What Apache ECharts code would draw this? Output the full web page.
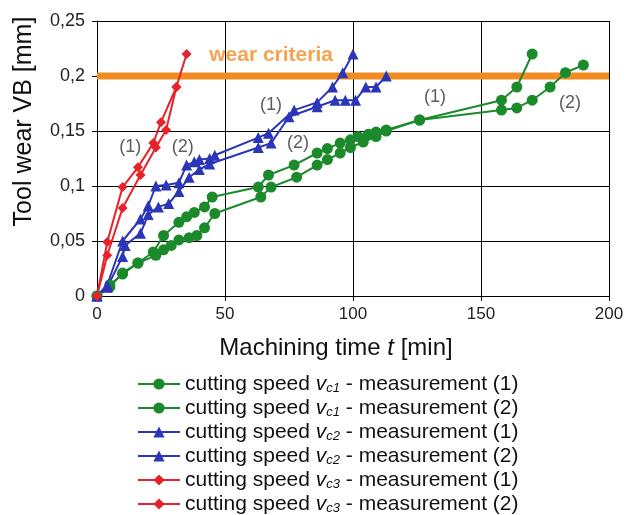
<!DOCTYPE html>
<html><head><meta charset="utf-8">
<script src="https://cdn.jsdelivr.net/npm/echarts@6/dist/echarts.min.js"></script>
<style>html,body{margin:0;padding:0;background:#fff}#c{width:627px;height:515px}</style>
</head><body><div id="c"></div>
<script>
const xTicks = [0, 50, 100, 150, 200];
const yTicks = [0, 0.05, 0.1, 0.15, 0.2, 0.25];
const wearCriteria = 0.2;

const vc1_m1 = [[0,0],[5,0.01],[10,0.02],[16,0.03],[22,0.04],[26,0.055],[32,0.067],[35,0.072],[38,0.076],[42,0.081],[45,0.09],[63,0.099],[67,0.11],[77,0.119],[86,0.13],[90,0.134],[95,0.139],[99,0.142],[102,0.145],[106,0.147],[109,0.149],[113,0.151],[126,0.16],[158,0.178],[164,0.19],[170,0.22]];
const vc1_m2 = [[0,0],[5,0.008],[10,0.021],[16,0.03],[23,0.037],[26,0.042],[29,0.046],[32,0.051],[36,0.053],[39,0.055],[42,0.062],[46,0.075],[64,0.09],[68,0.099],[78,0.108],[86,0.119],[90,0.124],[95,0.13],[99,0.135],[104,0.14],[109,0.145],[113,0.15],[126,0.16],[158,0.169],[164,0.171],[170,0.178],[177,0.19],[183,0.203],[190,0.21]];
const vc2_m1 = [[0,0],[4,0.01],[10,0.05],[17,0.07],[20,0.082],[23,0.1],[27,0.101],[32,0.103],[35,0.119],[38,0.122],[40,0.124],[44,0.125],[46,0.128],[63,0.144],[67,0.148],[77,0.169],[86,0.176],[92,0.19],[96,0.203],[100,0.22]];
const vc2_m2 = [[0,0],[4,0.008],[10,0.036],[11,0.046],[17,0.057],[20,0.074],[24,0.081],[28,0.084],[32,0.095],[36,0.108],[40,0.115],[44,0.12],[63,0.135],[68,0.139],[75,0.163],[86,0.172],[93,0.178],[97,0.178],[101,0.178],[105,0.19],[109,0.19],[113,0.2]];
const vc3_m1 = [[0,0],[4,0.049],[10,0.099],[16,0.117],[22,0.139],[25,0.158],[31,0.19],[35,0.22]];
const vc3_m2 = [[0,0],[4,0.037],[10,0.08],[17,0.11],[23,0.135],[27,0.151],[31,0.19]];

const seriesNames = ['vc1 (1)','vc1 (2)','vc2 (1)','vc2 (2)','vc3 (1)','vc3 (2)'];
const legendTexts = {
  'vc1 (1)': ['c1','(1)'], 'vc1 (2)': ['c1','(2)'],
  'vc2 (1)': ['c2','(1)'], 'vc2 (2)': ['c2','(2)'],
  'vc3 (1)': ['c3','(1)'], 'vc3 (2)': ['c3','(2)']
};
const annotations = [
  [13, 0.135, '(1)'], [33.5, 0.135, '(2)'],
  [68, 0.174, '(1)'], [78.5, 0.139, '(2)'],
  [132, 0.181, '(1)'], [184.8, 0.175, '(2)']
];
const wearLabel = [68, 0.219, 'wear criteria'];

const GREEN = '#1b8a2b', BLUE = '#2a35b8', RED = '#e8222a', ORANGE = '#f28c22';

function mk(name, data, color, symbol, size) {
  return {
    name, type: 'line', data, color,
    symbol, symbolSize: size, showSymbol: true,
    lineStyle: { width: 2, color }, itemStyle: { color },
    z: 3, animation: false
  };
}

const FF = 'Liberation Sans, Arial, sans-serif';
const chart = echarts.init(document.getElementById('c'), null, { renderer: 'canvas' });
const option = {
  animation: false,
  textStyle: { fontFamily: FF },
  grid: { left: 97, right: 18, top: 21, bottom: 219, containLabel: false },
  xAxis: {
    type: 'value', min: 0, max: 200, interval: 50,
    axisLine: { show: true, lineStyle: { color: '#000', width: 1 } },
    axisTick: { show: true, length: 5, lineStyle: { color: '#000' } },
    splitLine: { show: true, lineStyle: { color: '#000', width: 1 } },
    axisLabel: { color: '#222', fontSize: 17, margin: 10 },
    name: '{a|Machining time }{i|t}{a| [min]}',
    nameLocation: 'middle', nameGap: 40,
    nameTextStyle: { padding: [0, 34, 0, 0], rich: {
      a: { fontSize: 24, color: '#111', fontFamily: FF },
      i: { fontSize: 24, color: '#111', fontStyle: 'italic', fontFamily: FF }
    } }
  },
  yAxis: {
    type: 'value', min: 0, max: 0.25, interval: 0.05,
    axisLine: { show: true, lineStyle: { color: '#000', width: 1 } },
    axisTick: { show: true, length: 5, lineStyle: { color: '#000' } },
    splitLine: { show: true, lineStyle: { color: '#000', width: 1 } },
    axisLabel: { color: '#222', fontSize: 18, margin: 12,
      formatter: v => String(Math.round(v * 100) / 100).replace('.', ',') },
    name: 'Tool wear VB [mm]', nameLocation: 'middle', nameGap: 60,
    nameTextStyle: { fontSize: 25, color: '#111', padding: [0, 0, 0, 74] }
  },
  legend: {
    orient: 'vertical', left: 132, top: 368, itemGap: 2, height: 200,
    itemWidth: 42, itemHeight: 14,
    data: seriesNames,
    formatter: n => {
      const t = legendTexts[n];
      return '{n|cutting speed }{v|v}{s|' + t[0] + '}{n| - measurement ' + t[1] + '}';
    },
    textStyle: { lineHeight: 22, rich: {
      n: { fontSize: 21, lineHeight: 22, color: '#111', fontFamily: FF },
      v: { fontSize: 21, lineHeight: 22, color: '#111', fontStyle: 'italic', fontFamily: FF },
      s: { fontSize: 13, lineHeight: 22, color: '#111', fontStyle: 'italic', fontFamily: FF, verticalAlign: 'bottom', padding: [7, 0, 0, 0] }
    } }
  },
  series: [
    mk('vc1 (1)', vc1_m1, GREEN, 'circle', 11),
    mk('vc1 (2)', vc1_m2, GREEN, 'circle', 11),
    mk('vc2 (1)', vc2_m1, BLUE, 'triangle', 11),
    mk('vc2 (2)', vc2_m2, BLUE, 'triangle', 11),
    mk('vc3 (1)', vc3_m1, RED, 'diamond', 10),
    mk('vc3 (2)', vc3_m2, RED, 'diamond', 10),
    {
      name: 'wear', type: 'line', data: [[0, wearCriteria], [200, wearCriteria]],
      symbol: 'none', lineStyle: { color: ORANGE, width: 7 }, z: 2, silent: true
    },
    {
      name: 'ann', type: 'scatter', symbolSize: 0, z: 4, silent: true,
      data: annotations.map(a => ({ value: a })).concat([{
        value: wearLabel,
        label: { color: ORANGE, fontWeight: 'bold', fontSize: 21 }
      }]),
      label: { show: true, position: 'inside', formatter: p => p.value[2],
        color: '#333', fontSize: 18 }
    }
  ]
};
chart.setOption(option);
</script></body></html>
